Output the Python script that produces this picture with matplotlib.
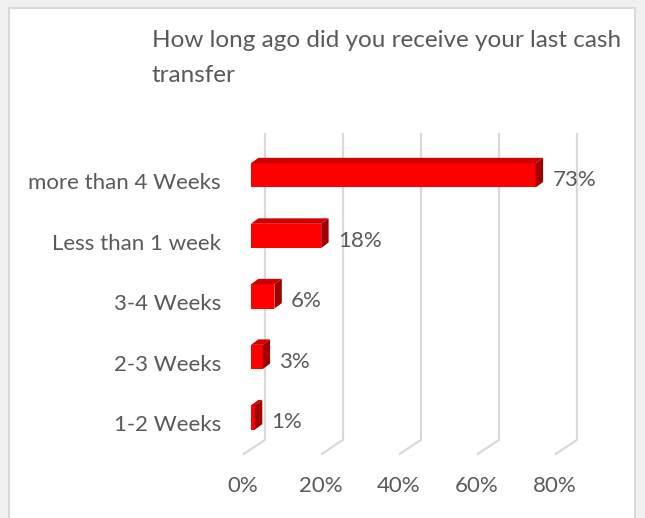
import numpy as np
import matplotlib
matplotlib.use("Agg")
import matplotlib.pyplot as plt
from matplotlib.patches import Polygon, Rectangle

plt.rcParams['font.family'] = ['Lato', 'DejaVu Sans']

categories = ['1-2 Weeks', '2-3 Weeks', '3-4 Weeks', 'Less than 1 week', 'more than 4 Weeks']
values = [1, 3, 6, 18, 73]
ticks = [0, 20, 40, 60, 80]
tick_labels = ['0%', '20%', '40%', '60%', '80%']
title = 'How long ago did you receive your last cash\ntransfer'

txt = '#595959'
grid_c = '#d9d9d9'
W, H = 645, 518
fs = 16

fig = plt.figure(figsize=(W / 100, H / 100), dpi=100, facecolor='#f0f0f0')
# white chart area with light border
fig.patches.append(Rectangle((9 / W, -0.01), 626 / W, 1.01 - 8 / H, transform=fig.transFigure,
                             facecolor='white', edgecolor=grid_c, linewidth=1.5, zorder=-5))

# axes: x 0..80 maps to front floor pixels 243..555, y maps pixels 455..133
ax = fig.add_axes([243 / W, (H - 455) / H, 312 / W, 322 / H])
ax.set_xlim(0, 80)
ax.set_ylim(-0.62, 4.70)
ax.axis('off')
ax.patch.set_alpha(0)

# 3d depth of the back wall and of the bars
wall_dx, wall_dy = 5.64, 0.25
floor_back = -0.37
x0 = 2.05
h = 0.40
bdx, bdy = 1.9, 0.09

for t in ticks:
    ax.plot([t + wall_dx, t + wall_dx, t], [4.70, floor_back, -0.61], color=grid_c,
            lw=1.6, clip_on=False, zorder=1, solid_capstyle='butt')

y = np.arange(len(categories))
ax.barh(y, values, left=x0, height=h, color='#ff0000', zorder=3)
for yi, v in zip(y, values):
    yb, yt = yi - h / 2, yi + h / 2
    xr = x0 + v
    top = Polygon([(x0, yt), (xr, yt), (xr + bdx, yt + bdy), (x0 + bdx, yt + bdy)],
                  closed=True, facecolor='#d10000', edgecolor='none', zorder=4)
    side = Polygon([(xr, yb), (xr, yt), (xr + bdx, yt + bdy), (xr + bdx, yb + bdy)],
                   closed=True, facecolor='#a00000', edgecolor='none', zorder=4)
    ax.add_patch(top)
    ax.add_patch(side)
    ax.text(xr + bdx + 2.4, yi - 0.08, f'{v}%', ha='left', va='center',
            fontsize=fs, color=txt, clip_on=False)

for yi, c in zip(y, categories):
    ax.text(-5.64, yi - 0.13, c, ha='right', va='center', fontsize=fs, color=txt, clip_on=False)

for t, lab in zip(ticks, tick_labels):
    ax.text(t, -1.14, lab, ha='center', va='center', fontsize=fs, color=txt, clip_on=False)

fig.text(152 / W, 1 - 30 / H, title, ha='left', va='top', fontsize=17.5, color=txt,
         linespacing=1.8)

fig.savefig('out.png', dpi=100, facecolor=fig.get_facecolor())
